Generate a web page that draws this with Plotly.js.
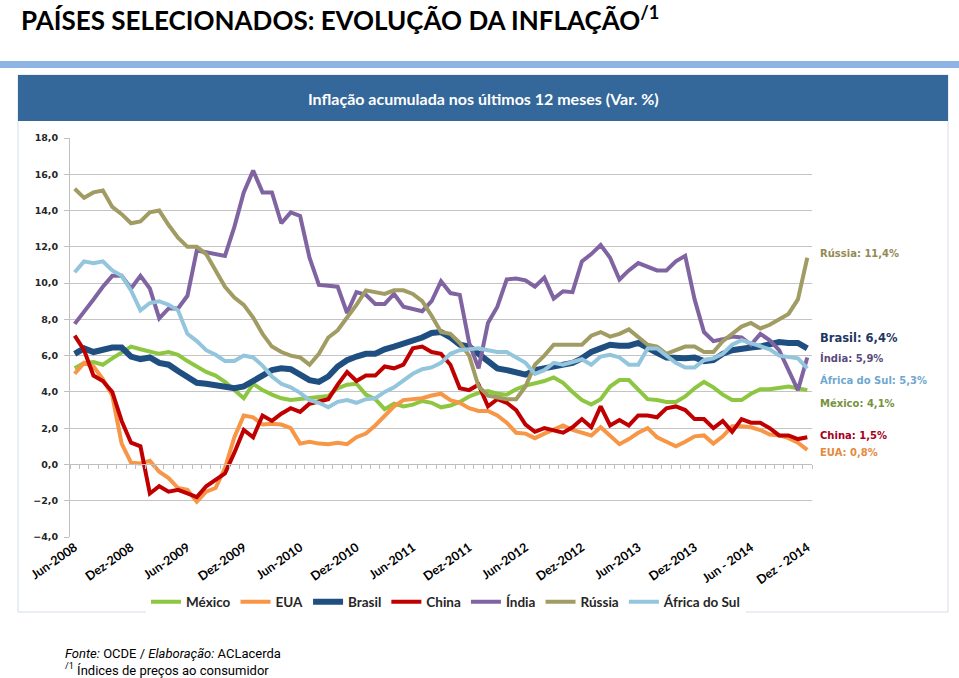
<!DOCTYPE html>
<html>
<head>
<meta charset="utf-8">
<script src="https://cdn.plot.ly/plotly-3.0.1.min.js"></script>
<style>html,body{margin:0;padding:0;background:#fff;}#chart{width:959px;height:678px;}</style>
</head>
<body>
<div id="chart"></div>
<script>
// ---- Data (Var. % acumulada 12 meses), Jun-2008 .. Dez-2014, mensal ----
const tickLabels = ['Jun-2008','Dez-2008','Jun-2009','Dez-2009','Jun-2010','Dez-2010','Jun-2011','Dez-2011','Jun-2012','Dez-2012','Jun-2013','Dez-2013','Jun - 2014','Dez - 2014'];

const mexico = [5.3,5.6,5.65,5.5,5.85,6.15,6.5,6.35,6.2,6.1,
  6.2,6.05,5.7,5.4,5.1,4.9,4.55,4.1,3.65,4.45,
  4.1,3.85,3.65,3.55,3.6,3.65,3.73,3.77,4.2,4.4,
  4.45,3.85,3.6,3.05,3.35,3.2,3.3,3.5,3.4,3.15,
  3.25,3.45,3.75,3.95,4.05,3.9,3.85,4.15,4.35,4.45,
  4.6,4.8,4.5,4.0,3.55,3.3,3.6,4.3,4.65,4.65,
  4.1,3.6,3.55,3.45,3.45,3.75,4.2,4.55,4.25,3.85,
  3.55,3.55,3.9,4.15,4.15,4.25,4.3,4.2,4.1];

const eua = [5.0,5.6,5.4,4.7,3.8,1.15,0.1,0.05,0.2,-0.4,
  -0.75,-1.3,-1.4,-2.05,-1.5,-1.3,-0.2,1.5,2.7,2.6,
  2.2,2.25,2.2,2.0,1.15,1.25,1.15,1.12,1.19,1.12,
  1.5,1.7,2.15,2.7,3.2,3.55,3.6,3.65,3.8,3.9,
  3.55,3.4,3.1,2.95,2.95,2.7,2.3,1.75,1.7,1.45,
  1.7,1.95,2.15,1.9,1.75,1.6,2.05,1.6,1.12,1.4,
  1.75,2.0,1.5,1.25,1.0,1.25,1.55,1.6,1.15,1.55,
  2.1,2.1,2.05,1.9,1.65,1.6,1.45,1.2,0.8];

const brasil = [6.1,6.4,6.2,6.35,6.45,6.45,5.95,5.8,5.9,5.6,
  5.5,5.15,4.8,4.5,4.45,4.35,4.25,4.2,4.3,4.6,
  4.85,5.2,5.3,5.25,4.95,4.65,4.55,4.85,5.4,5.75,
  5.95,6.1,6.1,6.35,6.5,6.65,6.8,7.0,7.25,7.3,
  7.0,6.6,6.5,6.1,5.7,5.3,5.2,5.1,4.95,5.2,
  5.3,5.4,5.45,5.6,5.85,6.2,6.4,6.6,6.55,6.55,
  6.7,6.4,6.15,5.9,5.85,5.85,5.9,5.7,5.75,6.1,
  6.3,6.4,6.45,6.5,6.6,6.75,6.7,6.7,6.4];

const china = [7.1,6.3,4.9,4.6,4.0,2.4,1.2,1.0,-1.6,-1.2,
  -1.5,-1.4,-1.6,-1.8,-1.2,-0.85,-0.5,0.65,1.9,1.5,
  2.7,2.4,2.8,3.1,2.9,3.35,3.5,3.6,4.4,5.1,
  4.6,4.9,4.9,5.4,5.3,5.5,6.4,6.5,6.2,6.1,
  5.5,4.2,4.1,4.4,3.2,3.6,3.4,3.0,2.2,1.8,
  2.0,1.9,1.75,2.05,2.5,2.05,3.2,2.15,2.45,2.15,
  2.7,2.7,2.6,3.1,3.2,3.0,2.5,2.5,2.0,2.4,
  1.8,2.5,2.3,2.3,2.0,1.6,1.6,1.4,1.5];

const india = [7.75,8.4,9.1,9.8,10.4,10.4,9.7,10.4,9.7,8.05,
  8.6,8.6,9.3,11.8,11.7,11.6,11.5,13.1,15.0,16.2,
  15.0,15.0,13.3,13.9,13.7,11.4,9.9,9.85,9.8,8.35,
  9.5,9.35,8.85,8.85,9.4,8.7,8.6,8.45,9.0,10.1,
  9.45,9.35,6.7,5.3,7.8,8.7,10.2,10.25,10.15,9.8,
  10.3,9.15,9.55,9.5,11.2,11.6,12.1,11.4,10.2,10.7,
  11.1,10.9,10.7,10.7,11.2,11.5,9.1,7.3,6.8,6.9,
  7.05,7.0,6.6,7.2,6.85,6.3,5.2,4.1,5.9];

const russia = [15.2,14.7,15.0,15.1,14.2,13.8,13.3,13.4,13.9,14.0,
  13.2,12.5,12.0,12.0,11.6,10.7,9.8,9.2,8.8,8.1,
  7.2,6.5,6.2,6.0,5.9,5.5,6.1,7.0,7.4,8.1,
  8.8,9.6,9.5,9.4,9.6,9.6,9.4,9.0,8.2,7.3,
  7.2,6.7,6.0,4.3,3.8,3.7,3.6,3.6,4.3,5.5,
  6.0,6.6,6.6,6.6,6.6,7.1,7.3,7.05,7.2,7.45,
  7.0,6.6,6.5,6.1,6.3,6.5,6.5,6.2,6.2,6.8,
  7.2,7.6,7.8,7.5,7.7,8.0,8.3,9.1,11.4];

const africa = [10.6,11.2,11.1,11.2,10.7,10.4,9.6,8.5,8.9,9.0,
  8.8,8.5,7.2,6.8,6.3,6.05,5.7,5.7,6.0,5.9,
  5.45,4.85,4.45,4.25,3.95,3.55,3.4,3.15,3.45,3.55,
  3.4,3.6,3.65,4.0,4.25,4.6,5.0,5.25,5.35,5.6,
  6.1,6.3,6.35,6.4,6.3,6.2,6.2,5.9,5.6,5.0,
  5.2,5.6,5.5,5.65,5.8,5.5,5.95,6.05,5.9,5.5,
  5.5,6.4,6.4,6.0,5.6,5.35,5.35,5.75,5.85,6.1,
  6.6,6.85,6.7,6.5,6.35,6.0,5.9,5.85,5.3];

const seriesNames = ['México','EUA','Brasil','China','Índia','Rússia','África do Sul'];
const seriesData = [mexico, eua, brasil, china, india, russia, africa];

// ---- Styles ----
const colors = ['#8DC641','#F79646','#1F4E80','#C00000','#8064A2','#A09C63','#93C5DC'];
const widths = [4,4,6,4,4,4,4];
const labelColors = ['#76923C','#E48A3C','#1F3864','#A50021','#5A4A7E','#948A54','#6FA8CF'];

const W = 959, H = 678, L = 70, R = 812, T = 138, B = 537;
const px = x => (x - L) / (R - L);
const py = y => (B - y) / (B - T);

const NARROW = 'Lato, "Noto Sans", sans-serif';
const FOOT = 'Roboto, "Liberation Sans", sans-serif';
const WIDE = '"DejaVu Sans", Verdana, sans-serif';

const n = mexico.length;
const xs = mexico.map((_, i) => i);
const tickVals = tickLabels.map((_, k) => k * 6);
const boundaries = [];
for (let i = 0; i <= n; i++) boundaries.push(i - 0.5);

const traces = seriesData.map((d, k) => ({
  x: xs, y: d, name: seriesNames[k], type: 'scatter', mode: 'lines',
  line: {color: colors[k], width: widths[k]}, hoverinfo: 'skip'
}));
traces.push({x: [0], y: [null], xaxis: 'x2', yaxis: 'y', mode: 'lines', showlegend: false, hoverinfo: 'skip'});

const fmt = v => v.toFixed(1).replace('.', ',') + '%';
const endLabelY = {'Rússia':253, 'Brasil':338, 'Índia':358, 'África do Sul':380, 'México':403, 'China':435, 'EUA':452};

const annotations = [
  {text: 'PAÍSES SELECIONADOS: EVOLUÇÃO DA INFLAÇÃO<sup>/1</sup>', xref:'paper', yref:'paper', x: px(19), y: py(18),
   xanchor:'left', yanchor:'middle', showarrow:false,
   font:{family: NARROW, size: 26, color:'#000000', weight: 'bold'}},
  {text: 'Inflação acumulada nos últimos 12 meses (Var. %)', xref:'paper', yref:'paper', x: px(483), y: py(98),
   xanchor:'center', yanchor:'middle', showarrow:false,
   font:{family: NARROW, size: 16, color:'#FFFFFF', weight: 'bold'}},
  {text: '<i>Fonte:</i> OCDE / <i>Elaboração:</i> ACLacerda<br><sup>/1</sup> Índices de preços ao consumidor',
   xref:'paper', yref:'paper', x: px(64), y: py(662), align: 'left',
   xanchor:'left', yanchor:'middle', showarrow:false, borderpad: 0,
   font:{family: FOOT, size: 13, color:'#000000'}}
];
seriesNames.forEach((nm, k) => {
  const d = seriesData[k];
  annotations.push({
    text: nm + ': ' + fmt(d[d.length - 1]), xref:'paper', yref:'paper', x: px(818), y: py(endLabelY[nm]),
    xanchor:'left', yanchor:'middle', showarrow:false,
    font:{family: WIDE, size: nm === 'Brasil' ? 11.5 : 10, color: labelColors[k], weight:'bold'}
  });
});

const layout = {
  width: W, height: H,
  margin: {l: L, r: W - R, t: T, b: H - B, pad: 0},
  paper_bgcolor: '#FFFFFF', plot_bgcolor: '#FFFFFF',
  separators: ',.',
  showlegend: true,
  legend: {orientation: 'h', x: px(446), xanchor: 'center', y: py(602), yanchor: 'middle',
    font: {family: NARROW, size: 13.5, color: '#262626', weight: 'bold'}, itemwidth: 30, traceorder: 'normal'},
  xaxis: {range: [-0.5, n - 0.5], tickmode: 'array', tickvals: tickVals, ticktext: tickLabels, tickangle: -35,
    ticks: '', showgrid: false, zeroline: false, showline: false, fixedrange: true,
    tickfont: {family: NARROW, size: 12.5, color: '#000000', weight: 'bold'}},
  xaxis2: {overlaying: 'x', anchor: 'free', position: py(464.3), side: 'bottom',
    range: [-0.5, n - 0.5], tickmode: 'array', tickvals: boundaries, ticks: 'outside', ticklen: 4,
    tickcolor: '#BFBFBF', tickwidth: 1, showticklabels: false, showgrid: false, zeroline: false,
    showline: true, linecolor: '#BFBFBF', linewidth: 1},
  yaxis: {range: [-4, 18], tick0: 0, dtick: 2, tickformat: '.1f', showgrid: true, gridcolor: '#C4C4C4', gridwidth: 1,
    showline: true, linecolor: '#BFBFBF', linewidth: 1, ticks: 'outside', ticklen: 5, tickcolor: '#BFBFBF',
    ticklabelstandoff: 4,
    zeroline: false, tickfont: {family: WIDE, size: 9.5, color: '#262626', weight: 'bold'}},
  shapes: [
    {type:'rect', xref:'paper', yref:'paper', x0: px(0), x1: px(959), y0: py(68), y1: py(61), fillcolor:'#8DB4E2', line:{width:0}},
    {type:'rect', xref:'paper', yref:'paper', x0: px(18), x1: px(948), y0: py(612), y1: py(75), fillcolor:'rgba(0,0,0,0)', line:{color:'#D5DEE8', width:1}},
    {type:'rect', xref:'paper', yref:'paper', x0: px(18), x1: px(948), y0: py(121), y1: py(75), fillcolor:'#34679A', line:{width:0}}
  ],
  annotations: annotations
};

Plotly.newPlot('chart', traces, layout, {displayModeBar: false, staticPlot: true});
</script>
</body>
</html>
